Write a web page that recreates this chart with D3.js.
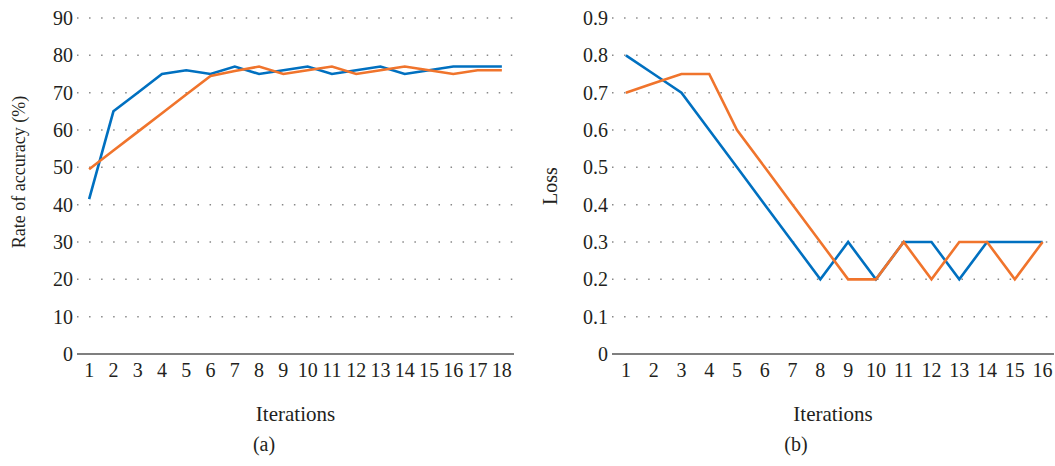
<!DOCTYPE html>
<html>
<head>
<meta charset="utf-8">
<script src="https://cdn.jsdelivr.net/npm/d3@7"></script>
<style>
  body { margin: 0; background: #fff; }
</style>
</head>
<body>
<div id="chart"></div>
<script>
// accuracy chart (a)
var accIter = d3.range(1, 19);
var accBlue = [41.5, 65, 70, 75, 76, 75, 77, 75, 76, 77, 75, 76, 77, 75, 76, 77, 77, 77];
var accOrange = [49.5, 54.5, 59.5, 64.5, 69.5, 74.5, 75.8, 77, 75, 76, 77, 75, 76, 77, 76, 75, 76, 76];
var accTicks = [0, 10, 20, 30, 40, 50, 60, 70, 80, 90];

// loss chart (b)
var lossIter = d3.range(1, 17);
var lossBlue = [0.8, 0.75, 0.7, 0.6, 0.5, 0.4, 0.3, 0.2, 0.3, 0.2, 0.3, 0.3, 0.2, 0.3, 0.3, 0.3];
var lossOrange = [0.7, 0.725, 0.75, 0.75, 0.6, 0.5, 0.4, 0.3, 0.2, 0.2, 0.3, 0.2, 0.3, 0.3, 0.2, 0.3];
var lossTicks = [0, 0.1, 0.2, 0.3, 0.4, 0.5, 0.6, 0.7, 0.8, 0.9];

var width = 1055, height = 466;
var blue = "#0070c0", orange = "#f0742c";
var serif = "'Liberation Serif', 'Times New Roman', serif";
var ink = "#231f20";

var svg = d3.select("#chart")
            .append("svg")
            .attr("width", width)
            .attr("height", height);

function styleText(sel, size) {
    sel.style("font-family", serif)
       .style("font-size", size + "px")
       .style("fill", ink);
}

function drawPanel(opt) {
    var x = d3.scaleBand()
              .domain(opt.iter)
              .range(opt.xRange)
              .paddingInner(0);
    var y = d3.scaleLinear()
              .domain([0, d3.max(opt.ticks)])
              .range([354, 18]);

    var g = svg.append("g");

    // dotted grid
    g.selectAll(".grid")
     .data(opt.ticks.slice(1))
     .enter()
     .append("line")
     .attr("x1", opt.xRange[0])
     .attr("x2", opt.gridEnd)
     .attr("y1", function(d) { return y(d); })
     .attr("y2", function(d) { return y(d); })
     .attr("stroke", "#888")
     .attr("stroke-width", 1.5)
     .attr("stroke-dasharray", "1.5 10.55");

    // baseline
    g.append("line")
     .attr("x1", opt.xRange[0])
     .attr("x2", opt.baseEnd)
     .attr("y1", y(0))
     .attr("y2", y(0))
     .attr("stroke", "#7f7f7f")
     .attr("stroke-width", 1.8);

    // y labels
    var yAxis = d3.axisLeft(y)
                  .tickValues(opt.ticks)
                  .tickSize(0)
                  .tickPadding(4)
                  .tickFormat(opt.fmt);
    g.append("g")
     .attr("transform", "translate(" + opt.xRange[0] + ",0)")
     .call(yAxis)
     .call(function(a) { a.select(".domain").remove(); })
     .selectAll("text")
     .call(styleText, 20);

    // x labels
    var xAxis = d3.axisBottom(x).tickSize(0).tickPadding(0);
    g.append("g")
     .attr("transform", "translate(0,377)")
     .call(xAxis)
     .call(function(a) { a.select(".domain").remove(); })
     .selectAll("text")
     .attr("y", 0)
     .attr("dy", 0)
     .call(styleText, 20);

    // lines
    var line = d3.line()
                 .x(function(d, i) { return x(opt.iter[i]) + x.bandwidth() / 2; })
                 .y(function(d) { return y(d); });
    [[opt.blue, blue], [opt.orange, orange]].forEach(function(s) {
        g.append("path")
         .datum(s[0])
         .attr("d", line)
         .attr("fill", "none")
         .attr("stroke", s[1])
         .attr("stroke-width", 2.6)
         .attr("stroke-linejoin", "miter");
    });

    // axis titles
    g.append("text")
     .attr("transform", "translate(" + opt.yTitleX + "," + opt.yTitleY + ") rotate(-90)")
     .attr("text-anchor", "middle")
     .call(styleText, opt.yTitleSize)
     .text(opt.yTitle);

    g.append("text")
     .attr("x", (opt.xRange[0] + opt.baseEnd) / 2)
     .attr("y", 421)
     .attr("text-anchor", "middle")
     .call(styleText, 21)
     .text("Iterations");

    g.append("text")
     .attr("x", opt.capX)
     .attr("y", 451)
     .attr("text-anchor", "middle")
     .call(styleText, 20)
     .text(opt.caption);
}

drawPanel({
    iter: accIter, blue: accBlue, orange: accOrange, ticks: accTicks,
    xRange: [77, 514], gridEnd: 514, baseEnd: 514,
    fmt: d3.format("d"), yTitle: "Rate of accuracy (%)", yTitleSize: 18,
    yTitleX: 25, yTitleY: 172, capX: 264, caption: "(a)"
});

drawPanel({
    iter: lossIter, blue: lossBlue, orange: lossOrange, ticks: lossTicks,
    xRange: [612, 1056.5], gridEnd: 1050, baseEnd: 1054,
    fmt: function(d) { return d === 0 ? "0" : d3.format(".1f")(d); }, yTitle: "Loss", yTitleSize: 20,
    yTitleX: 557, yTitleY: 186, capX: 796, caption: "(b)"
});
</script>
</body>
</html>
